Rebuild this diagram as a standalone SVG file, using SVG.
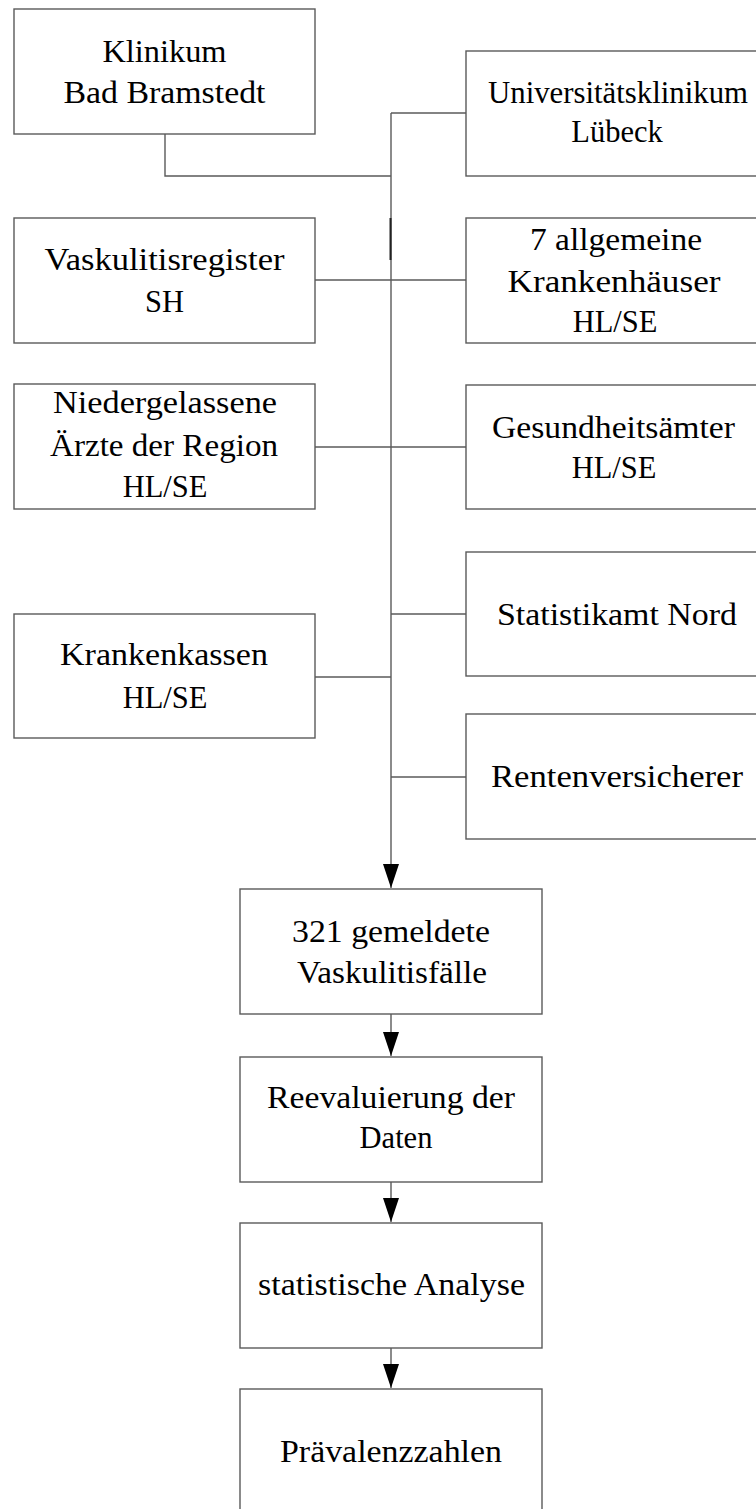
<svg xmlns="http://www.w3.org/2000/svg" width="756" height="1509" viewBox="0 0 756 1509">
<style>
.box{fill:#fff;stroke:#5a5a5a;stroke-width:1.4}
.ln{fill:none;stroke:#5a5a5a;stroke-width:1.4}
.t{font-family:"Liberation Serif","Times New Roman",serif;font-size:30.5px;fill:#000;text-anchor:middle}
</style>
<defs>
<marker id="arr" markerUnits="userSpaceOnUse" viewBox="0 0 24 16" refX="24" refY="8" markerWidth="24" markerHeight="16" orient="auto">
<path d="M0,0 L24,8 L0,16 Z" fill="#000"/>
</marker>
</defs>
<rect width="756" height="1509" fill="#fff"/>
<g id="connectors">
<path class="ln" d="M165,134 V176 H391"/>
<path class="ln" d="M391,113 H466"/>
<path class="ln" d="M391,113 V888" marker-end="url(#arr)"/>
<path class="ln" d="M390.5,218 V260" style="stroke:#222;stroke-width:2"/>
<path class="ln" d="M315,280 H466"/>
<path class="ln" d="M315,447 H466"/>
<path class="ln" d="M391,614 H466"/>
<path class="ln" d="M315,677 H391"/>
<path class="ln" d="M391,777 H466"/>
<path class="ln" d="M391,1014 V1056" marker-end="url(#arr)"/>
<path class="ln" d="M391,1182 V1222" marker-end="url(#arr)"/>
<path class="ln" d="M391,1348 V1388" marker-end="url(#arr)"/>
</g>
<g id="n1">
<rect class="box" x="14" y="9" width="301" height="125"/>
<text class="t" x="164.5" y="62" textLength="124" lengthAdjust="spacingAndGlyphs">Klinikum</text>
<text class="t" x="164.5" y="103" textLength="202" lengthAdjust="spacingAndGlyphs">Bad Bramstedt</text>
</g>
<g id="n2">
<rect class="box" x="466" y="51" width="302" height="125"/>
<text class="t" x="618" y="103" textLength="260" lengthAdjust="spacingAndGlyphs">Universitätsklinikum</text>
<text class="t" x="617" y="142">Lübeck</text>
</g>
<g id="n3">
<rect class="box" x="14" y="218" width="301" height="125"/>
<text class="t" x="164.5" y="270" textLength="240" lengthAdjust="spacingAndGlyphs">Vaskulitisregister</text>
<text class="t" x="164.5" y="312">SH</text>
</g>
<g id="n4">
<rect class="box" x="466" y="218" width="302" height="125"/>
<text class="t" x="616" y="250" textLength="172" lengthAdjust="spacingAndGlyphs">7 allgemeine</text>
<text class="t" x="614" y="292" textLength="213" lengthAdjust="spacingAndGlyphs">Krankenhäuser</text>
<text class="t" x="615" y="332">HL/SE</text>
</g>
<g id="n5">
<rect class="box" x="14" y="384" width="301" height="125"/>
<text class="t" x="165" y="413" textLength="224" lengthAdjust="spacingAndGlyphs">Niedergelassene</text>
<text class="t" x="164" y="456" textLength="228" lengthAdjust="spacingAndGlyphs">Ärzte der Region</text>
<text class="t" x="165" y="497">HL/SE</text>
</g>
<g id="n6">
<rect class="box" x="466" y="385" width="302" height="124"/>
<text class="t" x="613.5" y="438" textLength="243" lengthAdjust="spacingAndGlyphs">Gesundheitsämter</text>
<text class="t" x="614" y="478">HL/SE</text>
</g>
<g id="n7">
<rect class="box" x="466" y="552" width="302" height="124"/>
<text class="t" x="617" y="625" textLength="240" lengthAdjust="spacingAndGlyphs">Statistikamt Nord</text>
</g>
<g id="n8">
<rect class="box" x="14" y="614" width="301" height="124"/>
<text class="t" x="164" y="665" textLength="208" lengthAdjust="spacingAndGlyphs">Krankenkassen</text>
<text class="t" x="165" y="708">HL/SE</text>
</g>
<g id="n9">
<rect class="box" x="466" y="714" width="302" height="125"/>
<text class="t" x="617" y="787" textLength="252" lengthAdjust="spacingAndGlyphs">Rentenversicherer</text>
</g>
<g id="n10">
<rect class="box" x="240" y="889" width="302" height="125"/>
<text class="t" x="391" y="942" textLength="198" lengthAdjust="spacingAndGlyphs">321 gemeldete</text>
<text class="t" x="392" y="983" textLength="190" lengthAdjust="spacingAndGlyphs">Vaskulitisfälle</text>
</g>
<g id="n11">
<rect class="box" x="240" y="1057" width="302" height="125"/>
<text class="t" x="391" y="1108" textLength="248" lengthAdjust="spacingAndGlyphs">Reevaluierung der</text>
<text class="t" x="396" y="1148">Daten</text>
</g>
<g id="n12">
<rect class="box" x="240" y="1223" width="302" height="125"/>
<text class="t" x="391.5" y="1295" textLength="267" lengthAdjust="spacingAndGlyphs">statistische Analyse</text>
</g>
<g id="n13">
<rect class="box" x="240" y="1389" width="302" height="140"/>
<text class="t" x="391" y="1462" textLength="222" lengthAdjust="spacingAndGlyphs">Prävalenzzahlen</text>
</g>
</svg>
